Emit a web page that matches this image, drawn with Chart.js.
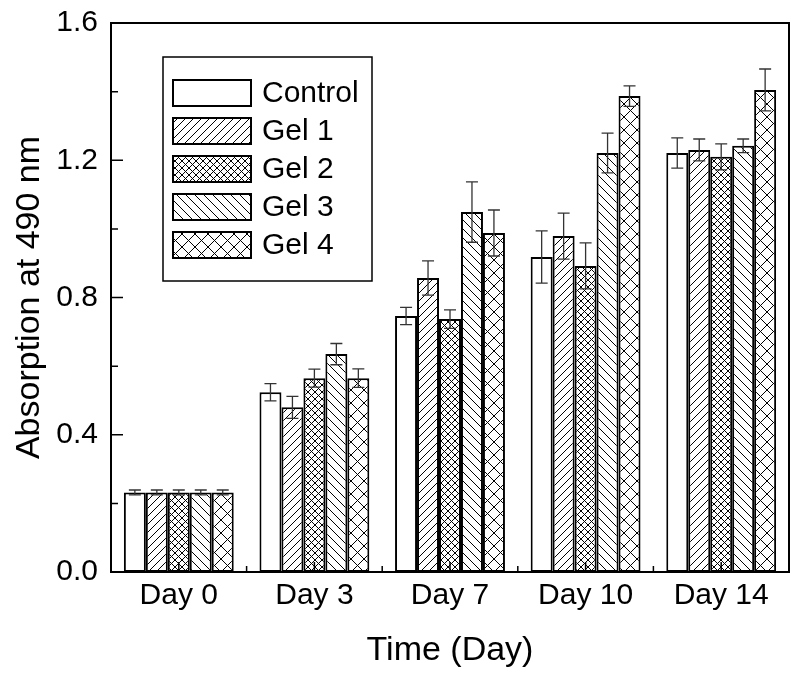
<!DOCTYPE html>
<html>
<head>
<meta charset="utf-8">
<script src="https://cdn.jsdelivr.net/npm/chart.js@4.4.1/dist/chart.umd.min.js"></script>
<style>
  html, body { margin: 0; padding: 0; background: #fff; }
  #wrap { width: 800px; height: 676px; }
</style>
</head>
<body>
<div id="wrap"><canvas id="chart" width="800" height="676"></canvas></div>
<script>
// Cell viability (absorption at 490 nm) per gel over 14 days, mean ± error.
const categories = ['Day 0', 'Day 3', 'Day 7', 'Day 10', 'Day 14'];
const seriesNames = ['Control', 'Gel 1', 'Gel 2', 'Gel 3', 'Gel 4'];

const controlVals = [0.232, 0.524, 0.746, 0.918, 1.221];
const gel1Vals    = [0.232, 0.480, 0.857, 0.979, 1.230];
const gel2Vals    = [0.232, 0.565, 0.737, 0.892, 1.210];
const gel3Vals    = [0.232, 0.635, 1.049, 1.221, 1.242];
const gel4Vals    = [0.232, 0.565, 0.988, 1.387, 1.405];

const controlErr = [0.007, 0.025, 0.025, 0.076, 0.044];
const gel1Err    = [0.007, 0.032, 0.050, 0.067, 0.032];
const gel2Err    = [0.007, 0.026, 0.027, 0.067, 0.038];
const gel3Err    = [0.007, 0.031, 0.088, 0.058, 0.020];
const gel4Err    = [0.007, 0.027, 0.067, 0.030, 0.061];

const yTicks = [0, 0.4, 0.8, 1.2, 1.6];

Chart.defaults.font.family = '"Liberation Sans", Arial, sans-serif';
Chart.defaults.color = '#000';

// hatch tiles: '/' forward, '\' backward, 'x' cross
function hatch(kind, size) {
    const c = document.createElement('canvas');
    c.width = size; c.height = size;
    const g = c.getContext('2d');
    g.fillStyle = '#fff';
    g.fillRect(0, 0, size, size);
    g.strokeStyle = '#000';
    g.lineWidth = 1;
    g.beginPath();
    if (kind === '/' || kind === 'x') {
        g.moveTo(-1, size + 1); g.lineTo(size + 1, -1);
        g.moveTo(-1, 1); g.lineTo(1, -1);
        g.moveTo(size - 1, size + 1); g.lineTo(size + 1, size - 1);
    }
    if (kind === '\\' || kind === 'x') {
        g.moveTo(-1, -1); g.lineTo(size + 1, size + 1);
        g.moveTo(size - 1, -1); g.lineTo(size + 1, 1);
        g.moveTo(-1, size - 1); g.lineTo(1, size + 1);
    }
    g.stroke();
    return g.createPattern(c, 'repeat');
}

const fills = ['#ffffff', hatch('/', 8), hatch('x', 7), hatch('\\', 9), hatch('x', 13)];
const values = [controlVals, gel1Vals, gel2Vals, gel3Vals, gel4Vals];
const errors = [controlErr, gel1Err, gel2Err, gel3Err, gel4Err];

const datasets = seriesNames.map((name, i) => ({
    label: name,
    data: values[i],
    err: errors[i],
    backgroundColor: fills[i],
    borderColor: '#000',
    borderWidth: 2,
    borderSkipped: false,
}));

// error bars with caps
const errorBars = {
    id: 'errorBars',
    afterDatasetsDraw(chart) {
        const ctx = chart.ctx;
        const y = chart.scales.y;
        ctx.save();
        ctx.strokeStyle = '#333';
        ctx.lineWidth = 1.3;
        chart.data.datasets.forEach((ds, di) => {
            chart.getDatasetMeta(di).data.forEach((bar, j) => {
                const v = ds.data[j], e = ds.err[j];
                const top = y.getPixelForValue(v + e);
                const bot = y.getPixelForValue(v - e);
                ctx.beginPath();
                ctx.moveTo(bar.x, top); ctx.lineTo(bar.x, bot);
                ctx.moveTo(bar.x - 6, top); ctx.lineTo(bar.x + 6, top);
                ctx.moveTo(bar.x - 6, bot); ctx.lineTo(bar.x + 6, bot);
                ctx.stroke();
            });
        });
        ctx.restore();
    },
};

// frame and inward ticks
const frame = {
    id: 'frame',
    afterDatasetsDraw(chart) {
        const { ctx, chartArea: a } = chart;
        const x = chart.scales.x, y = chart.scales.y;
        ctx.save();
        ctx.strokeStyle = '#000';
        ctx.lineWidth = 2;
        ctx.strokeRect(a.left, a.top, a.right - a.left, a.bottom - a.top);
        ctx.lineWidth = 1.5;
        ctx.beginPath();
        yTicks.forEach((t, i) => {
            const py = y.getPixelForValue(t);
            ctx.moveTo(a.left, py); ctx.lineTo(a.left + 12, py);
            if (i < yTicks.length - 1) {
                const pm = y.getPixelForValue(t + 0.2);
                ctx.moveTo(a.left, pm); ctx.lineTo(a.left + 7, pm);
            }
        });
        categories.forEach((c, i) => {
            const px = x.getPixelForValue(i);
            ctx.moveTo(px, a.bottom); ctx.lineTo(px, a.bottom - 10);
            if (i > 0) {
                const pb = (px + x.getPixelForValue(i - 1)) / 2;
                ctx.moveTo(pb, a.bottom); ctx.lineTo(pb, a.bottom - 6);
            }
        });
        ctx.stroke();
        ctx.restore();
    },
};

// boxed legend inside the plot
const boxLegend = {
    id: 'boxLegend',
    afterDraw(chart) {
        const ctx = chart.ctx;
        ctx.save();
        ctx.strokeStyle = '#000';
        ctx.lineWidth = 1.5;
        ctx.fillStyle = '#fff';
        ctx.fillRect(163, 57, 209, 224);
        ctx.strokeRect(163, 57, 209, 224);
        ctx.font = '30px "Liberation Sans", Arial, sans-serif';
        ctx.textBaseline = 'middle';
        chart.data.datasets.forEach((ds, i) => {
            const top = 80 + i * 38;
            ctx.fillStyle = ds.backgroundColor;
            ctx.fillRect(173, top, 78, 26);
            ctx.lineWidth = 2;
            ctx.strokeRect(173, top, 78, 26);
            ctx.fillStyle = '#000';
            ctx.fillText(ds.label, 262, top + 14);
        });
        ctx.restore();
    },
};

new Chart(document.getElementById('chart'), {
    type: 'bar',
    data: { labels: categories, datasets },
    plugins: [errorBars, frame, boxLegend],
    options: {
        responsive: false,
        animation: false,
        layout: { padding: { top: 23, right: 11, left: 0, bottom: 0 } },
        datasets: { bar: { categoryPercentage: 0.81, barPercentage: 1.0 } },
        plugins: { legend: { display: false }, tooltip: { enabled: false } },
        scales: {
            x: {
                grid: { display: false, drawTicks: false },
                border: { display: false },
                ticks: { font: { size: 30 }, padding: 6 },
                title: { display: true, text: 'Time (Day)', font: { size: 34 }, padding: { top: 0, bottom: 5 } },
                afterFit(s) { s.height = 104; },
            },
            y: {
                min: 0,
                max: 1.6,
                grid: { display: false, drawTicks: false },
                border: { display: false },
                ticks: { stepSize: 0.4, font: { size: 30 }, padding: 13, callback: v => v.toFixed(1) },
                title: { display: true, text: 'Absorption at 490 nm', font: { size: 34 }, padding: { top: 9, bottom: 0 } },
                afterFit(s) {
                    s.width = 111;
                    s.paddingTop = 0;
                    s.paddingBottom = 0;
                },
            },
        },
    },
});
</script>
</body>
</html>
